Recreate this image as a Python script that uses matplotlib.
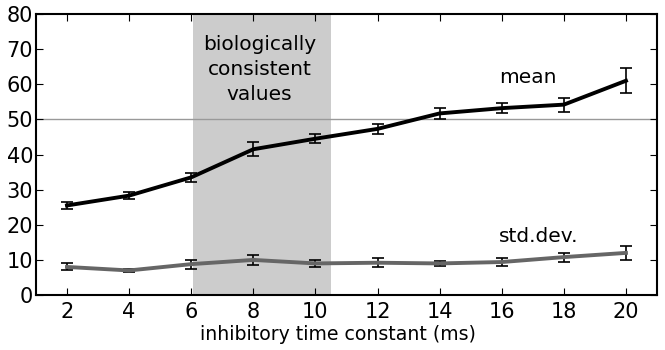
import matplotlib
matplotlib.use("Agg")
import matplotlib.pyplot as plt

# data
tau = [2, 4, 6, 8, 10, 12, 14, 16, 18, 20]
mean_vals = [25.5, 28.3, 33.5, 41.5, 44.5, 47.3, 51.7, 53.2, 54.2, 61.0]
mean_err = [1.0, 1.0, 1.3, 2.0, 1.3, 1.5, 1.5, 1.5, 2.0, 3.5]
std_vals = [8.0, 7.0, 8.8, 10.0, 9.0, 9.2, 9.0, 9.4, 10.8, 12.0]
std_err = [1.0, 0.5, 1.3, 1.5, 1.0, 1.3, 0.8, 1.2, 1.3, 2.0]

bio_range = (6.06, 10.5)
ref_level = 50

fig = plt.figure(figsize=(6.65, 3.5), dpi=100)
ax = fig.add_axes([0.054, 0.157, 0.934, 0.803])

ax.axvspan(bio_range[0], bio_range[1], color='#cccccc', lw=0, zorder=0)
ax.axhline(ref_level, color='#999999', lw=1, zorder=1)

ax.errorbar(tau, mean_vals, yerr=mean_err, color='black', lw=2.8,
            ecolor='black', elinewidth=1.2, capsize=4, capthick=1.2, zorder=3)
ax.errorbar(tau, std_vals, yerr=std_err, color='#666666', lw=2.8,
            ecolor='black', elinewidth=1.2, capsize=4, capthick=1.2, zorder=3)

ax.text(8.2, 64.2, "biologically\nconsistent\nvalues", ha='center', va='center',
        fontsize=14.5, linespacing=1.38)
ax.text(16.84, 62, "mean", ha='center', va='center', fontsize=14.5)
ax.text(17.2, 16.8, "std.dev.", ha='center', va='center', fontsize=14.5)

ax.set_xlim(1, 21)
ax.set_ylim(0, 80)
ax.set_xticks(tau)
ax.set_yticks(range(0, 81, 10))
ax.tick_params(direction='in', top=True, right=True, labelsize=15, length=5)
ax.tick_params(axis='x', pad=5)
ax.tick_params(axis='y', pad=2)
for s in ax.spines.values():
    s.set_linewidth(1.5)
ax.set_xlabel("inhibitory time constant (ms)", fontsize=13.6, labelpad=2)
ax.xaxis.label.set_x(0.487)

fig.savefig("out.png", dpi=100)
